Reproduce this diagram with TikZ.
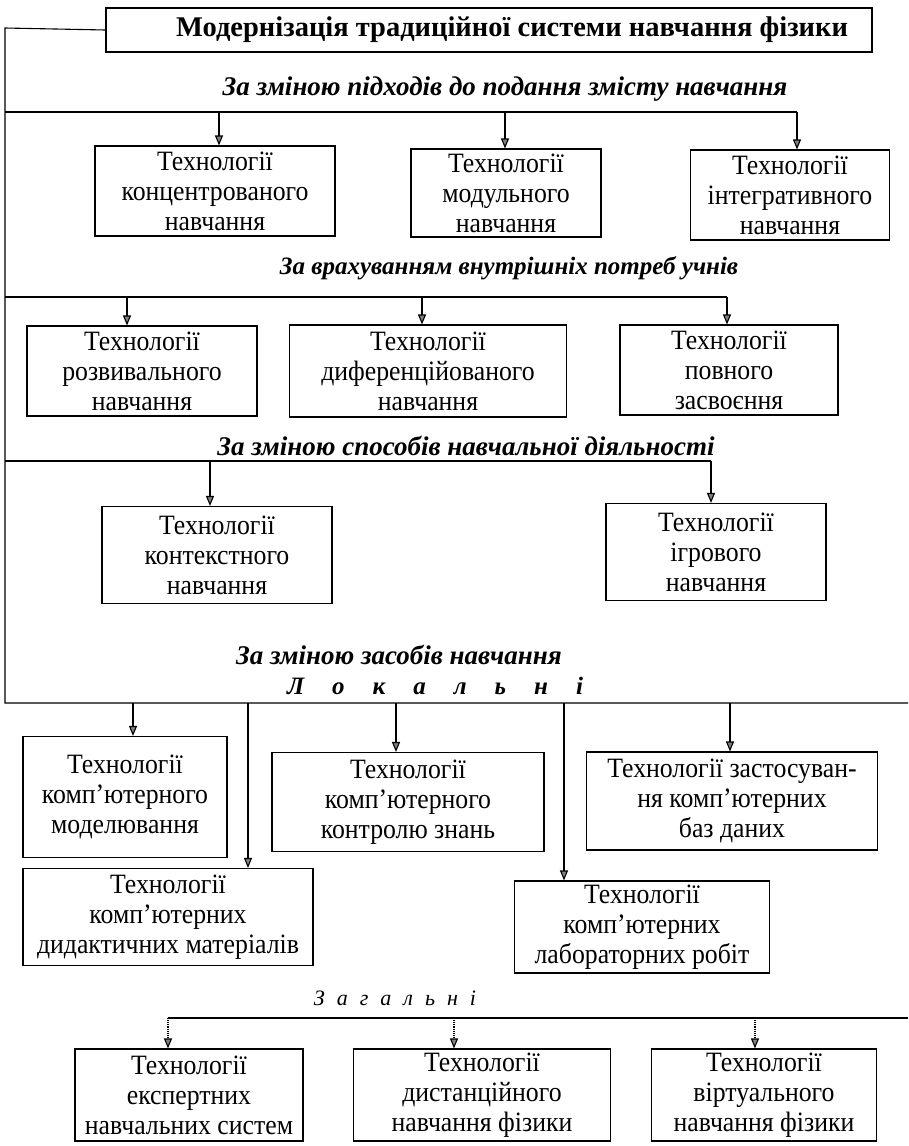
\documentclass[tikz,border=0pt]{standalone}
\usepackage{fontspec}
\setmainfont{Liberation Serif}
\newfontfamily\boxfont{Liberation Serif}[FakeStretch=0.92]
\usetikzlibrary{arrows.meta}

\begin{document}
\begin{tikzpicture}[x=1pt, y=-1pt, line width=1.1pt,
    techbox/.style={draw, rectangle, align=center, inner sep=2pt,
                    font=\boxfont\fontsize{28}{30}\selectfont},
    grouphead/.style={font=\fontsize{27}{30}\selectfont\bfseries\itshape},
    arr/.style={-{Triangle[length=10pt, width=8pt, fill=gray]}},
    dotarr/.style={arr, densely dotted},
    ]
    \useasboundingbox (0,0) rectangle (908,1146);

    \node[draw, rectangle, minimum width=766, minimum height=44,
          inner xsep=24pt, text width=718, align=flush right,
          font=\fontsize{28.5}{32}\selectfont\bfseries]
        (modern) at (489,30) {Модернізація традиційної системи навчання фізики};

    % group 1
    \node[grouphead] (head1) at (505,89) {За зміною підходів до подання змісту навчання};
    \node[techbox, minimum width=240, minimum height=90]
        (konc) at (215,191) {Технології\\концентрованого\\навчання};
    \node[techbox, minimum width=190, minimum height=88]
        (modul) at (506,193) {Технології\\модульного\\навчання};
    \node[techbox, minimum width=199, minimum height=90]
        (integr) at (790,195) {Технології\\інтегративного\\навчання};

    % group 2
    \node[grouphead, font=\fontsize{25}{30}\selectfont\bfseries\itshape]
        (head2) at (509,268) {За врахуванням внутрішніх потреб учнів};
    \node[techbox, minimum width=230, minimum height=90]
        (rozv) at (142,371) {Технології\\розвивального\\навчання};
    \node[techbox, minimum width=277, minimum height=92]
        (dyfer) at (428,371) {Технології\\диференційованого\\навчання};
    \node[techbox, minimum width=218, minimum height=90]
        (povn) at (729,370) {Технології\\повного\\засвоєння};

    % group 3
    \node[grouphead] (head3) at (466,446) {За зміною способів навчальної діяльності};
    \node[techbox, minimum width=230, minimum height=97]
        (kontekst) at (217,555) {Технології\\контекстного\\навчання};
    \node[techbox, minimum width=220, minimum height=97]
        (igr) at (716,552) {Технології\\ігрового\\навчання};

    % group 4
    \node[grouphead] (head4) at (399,655) {За зміною засобів навчання};
    \node[font=\fontsize{25}{30}\selectfont\bfseries\itshape] (lokal) at (435,686)
        {Л\hspace{28pt}о\hspace{28pt}к\hspace{28pt}а\hspace{28pt}л\hspace{28pt}ь\hspace{28pt}н\hspace{28pt}і};
    \node[techbox, minimum width=204, minimum height=121]
        (model) at (125,797) {Технології\\комп’ютерного\\моделювання};
    \node[techbox, minimum width=290, minimum height=97]
        (dydakt) at (168,917) {Технології\\комп’ютерних\\дидактичних матеріалів};
    \node[techbox, minimum width=272, minimum height=99]
        (kontrol) at (408,802) {Технології\\комп’ютерного\\контролю знань};
    \node[techbox, minimum width=255, minimum height=92]
        (labor) at (642,927) {Технології\\комп’ютерних\\лабораторних робіт};
    \node[techbox, minimum width=291, minimum height=98]
        (bazy) at (732,801) {Технології застосуван-\\ня комп’ютерних\\баз даних};

    \node[font=\fontsize{22}{26}\selectfont\itshape] (zagal) at (395,998)
        {З\hspace{12pt}а\hspace{12pt}г\hspace{12pt}а\hspace{12pt}л\hspace{12pt}ь\hspace{12pt}н\hspace{12pt}і};
    \node[techbox, minimum width=228, minimum height=92]
        (ekspert) at (189,1095) {Технології\\експертних\\навчальних систем};
    \node[techbox, minimum width=257, minimum height=92]
        (dyst) at (482,1095) {Технології\\дистанційного\\навчання фізики};
    \node[techbox, minimum width=225, minimum height=92]
        (virt) at (764,1095) {Технології\\віртуального\\навчання фізики};

    % buses
    \coordinate (trunk) at (5,28);
    \coordinate (b1w) at (5,112);   \coordinate (b1e) at (797,112);
    \coordinate (b2w) at (5,297);   \coordinate (b2e) at (727,297);
    \coordinate (b3w) at (5,461);   \coordinate (b3e) at (711,461);
    \coordinate (b4w) at (5,703);   \coordinate (b4e) at (908,703);
    \coordinate (b5w) at (168,1018); \coordinate (b5e) at (908,1018);

    \draw (modern.west) -- (trunk) -- (b4w) -- (b4e);
    \draw (b1w) -- (b1e);
    \draw (b2w) -- (b2e);
    \draw (b3w) -- (b3e);
    \draw (b5w) -- (b5e);

    \coordinate (a11) at (219,112);
    \coordinate (a12) at (505,112);
    \coordinate (a21) at (127,297);
    \coordinate (a22) at (422,297);
    \coordinate (a31) at (210,461);
    \coordinate (a41) at (133,703);
    \coordinate (a42) at (248,703);
    \coordinate (a43) at (396,703);
    \coordinate (a44) at (564,703);
    \coordinate (a45) at (730,703);
    \coordinate (a52) at (454,1018);
    \coordinate (a53) at (755,1018);

    \foreach \from/\to in {a11/konc, a12/modul, b1e/integr,
                           a21/rozv, a22/dyfer, b2e/povn,
                           a31/kontekst, b3e/igr,
                           a41/model, a42/dydakt, a43/kontrol, a44/labor, a45/bazy}
        \draw[arr] (\from) -- (\from |- \to.north);

    \foreach \from/\to in {b5w/ekspert, a52/dyst, a53/virt}
        \draw[dotarr] (\from) -- (\from |- \to.north);
\end{tikzpicture}
\end{document}
